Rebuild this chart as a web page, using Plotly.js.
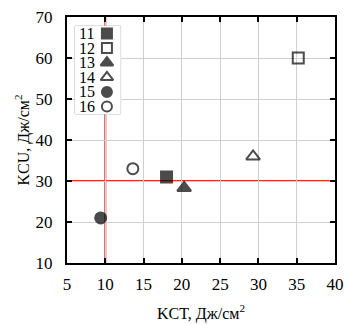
<!DOCTYPE html>
<html><head><meta charset="utf-8">
<script src="https://cdn.plot.ly/plotly-3.0.1.min.js"></script>
<style>html,body{margin:0;padding:0;background:#fff}#c{width:346px;height:324px}</style>
</head><body><div id="c"></div>
<script>
const labels = ['11','12','13','14','15','16'];
const kct = [18, 35.2, 20.3, 29.3, 9.4, 13.6];
const kcu = [31, 60, 28.3, 36, 21, 33];
const symbols = ['square','square-open','triangle-up','triangle-up-open','circle','circle-open'];
const kctThreshold = 10;
const kcuThreshold = 30;
const xTicks = [5,10,15,20,25,30,35,40];
const yTicks = [10,20,30,40,50,60,70];

const font = {family:'Liberation Serif, Times New Roman, serif', size:16, color:'#000'};
const tickFont = {family:'Liberation Serif, Times New Roman, serif', size:17, color:'#000'};
const sizes = symbols.map(s => s.startsWith('triangle') ? 12 : 11);

const traces = [{
  x: kct, y: kcu, type:'scatter', mode:'markers', showlegend:false, hoverinfo:'skip',
  marker:{symbol:symbols, size:sizes, color:'#000', line:{color:'#000', width:2}}
},{
  x: labels.map(()=>0.70), y: labels.map((_,i)=>i+1), xaxis:'x2', yaxis:'y2',
  type:'scatter', mode:'markers', showlegend:false, hoverinfo:'skip',
  marker:{symbol:symbols, size:sizes.map(s=>s-1), color:'#000', line:{color:'#000', width:2}}
}];

const axBase = {showline:true, linecolor:'#000', linewidth:2, mirror:'ticks', ticks:'inside',
  ticklen:5, tickwidth:2, tickcolor:'#000', showgrid:true, gridcolor:'#cfcfcf', gridwidth:1,
  zeroline:false, tickfont:tickFont};

const layout = {
  width:346, height:324, margin:{l:67, r:11, t:17, b:61},
  paper_bgcolor:'#fff', plot_bgcolor:'#fff', font:font, showlegend:false,
  xaxis: Object.assign({}, axBase, {range:[5,40], tickvals:xTicks, ticktext:xTicks.map(String),
    ticklabelstandoff:5, title:{text:'KCT, Дж/см<sup>2</sup>', font:font, standoff:14}}),
  yaxis: Object.assign({}, axBase, {range:[10,70], tickvals:yTicks, ticktext:yTicks.map(String),
    ticklabelstandoff:9, title:{text:'KCU, Дж/см<sup>2</sup>', font:font, standoff:2}}),
  xaxis2:{domain:[0.03,0.2], range:[0,1], visible:false, fixedrange:true, anchor:'y2'},
  yaxis2:{domain:[0.606,0.963], range:[6.5,0.5], visible:false, fixedrange:true, anchor:'x2'},
  shapes:[
    {type:'line', xref:'x', yref:'paper', x0:kctThreshold, x1:kctThreshold, y0:0, y1:1,
     line:{color:'#e3302f', width:2}, layer:'between'},
    {type:'line', xref:'paper', yref:'y', x0:0, x1:1, y0:kcuThreshold, y1:kcuThreshold,
     line:{color:'#e3302f', width:2}, layer:'between'},
    {type:'rect', xref:'x2 domain', yref:'y2 domain', x0:0, x1:1, y0:0, y1:1,
     fillcolor:'rgba(255,255,255,0.95)', line:{color:'#b5b5b5', width:1}, layer:'below'}
  ],
  annotations: labels.map((t,i)=>({text:t, xref:'x2', yref:'y2', x:0.04, y:i+1,
    xanchor:'left', yanchor:'middle', showarrow:false, font:font}))
};

Plotly.newPlot('c', traces, layout, {staticPlot:true, displayModeBar:false});
</script></body></html>
